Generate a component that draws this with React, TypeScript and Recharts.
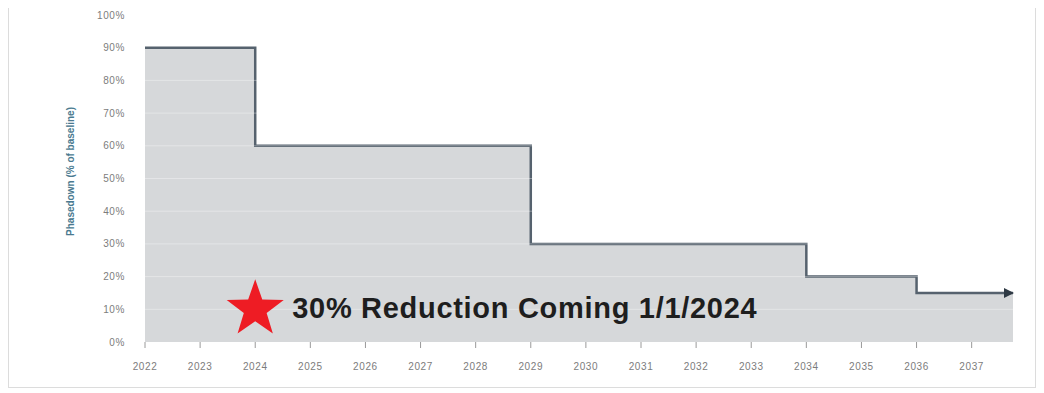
import React from 'react';
import { ComposedChart, Area, XAxis, YAxis, ReferenceLine, ReferenceDot } from 'recharts';

const years = [2022, 2024, 2029, 2034, 2036, 2037.75];
const phasedown = [90, 60, 30, 20, 15, 15];
const xTicks = [2022, 2023, 2024, 2025, 2026, 2027, 2028, 2029, 2030, 2031, 2032, 2033, 2034, 2035, 2036, 2037];
const yTicks = [0, 10, 20, 30, 40, 50, 60, 70, 80, 90, 100];
const gridLevels = [10, 20, 30, 40, 50, 60, 70, 80];
const annotationText = '30% Reduction Coming 1/1/2024';
const annotationYear = 2024;
const annotationLevel = 10;
const yLabel = 'Phasedown (% of baseline)';

const data = years.map((x, i) => ({ x, y: phasedown[i] }));

const ArrowDot = (props: any) => {
  const { cx, cy, index } = props;
  if (index !== data.length - 1) return <g key={`d${index}`} />;
  return (
    <path key={`d${index}`} d={`M ${cx - 9} ${cy - 5} L ${cx + 1} ${cy} L ${cx - 9} ${cy + 5} Z`} fill="#2f3a45" />
  );
};

const StarShape = (props: any) => {
  const { cx, cy } = props;
  const R = 30;
  const r = R * 0.4;
  const pts: string[] = [];
  for (let i = 0; i < 10; i++) {
    const rad = i % 2 === 0 ? R : r;
    const a = -Math.PI / 2 + (i * Math.PI) / 5;
    pts.push(`${cx + rad * Math.cos(a)},${cy + rad * Math.sin(a)}`);
  }
  return (
    <g>
      <polygon points={pts.join(' ')} fill="#ee1c24" />
      <text x={cx + 37} y={cy - 1} dominantBaseline="central" fontFamily="Liberation Sans, Arial, sans-serif" fontWeight="bold" fontSize={29} letterSpacing={0.7} fill="#1e1e1e">
        {annotationText}
      </text>
    </g>
  );
};

const tickStyle = { fontSize: 10, fill: '#7c7c7c', letterSpacing: 0.6, fontFamily: 'Liberation Sans, Arial, sans-serif' };

export default function App() {
  return (
    <div style={{ width: 1026, height: 383, border: '1px solid #dcdcdc', marginTop: -5, background: '#fff' }}>
      <ComposedChart width={1026} height={383} data={data} margin={{ top: 11, right: 22, left: 0, bottom: 15 }}>
        <XAxis
          dataKey="x"
          type="number"
          domain={[2022, 2037.75]}
          ticks={xTicks}
          interval={0}
          axisLine={false}
          tickSize={6}
          tickMargin={15}
          tickLine={{ stroke: '#9a9a9a' }}
          tick={tickStyle}
          height={30}
        />
        <YAxis
          type="number"
          domain={[0, 100]}
          ticks={yTicks}
          interval={0}
          width={136}
          axisLine={false}
          tickLine={false}
          tickSize={6}
          tickMargin={14}
          tickFormatter={(v: number) => `${v}%`}
          tick={tickStyle}
          label={{ value: yLabel, angle: -90, position: 'insideLeft', offset: 61, dy: -7, style: { fontSize: 10, fill: '#4a7a90', fontWeight: 'bold', textAnchor: 'middle', fontFamily: 'Liberation Sans, Arial, sans-serif' } }}
        />
        <Area
          type="stepAfter"
          dataKey="y"
          stroke="#56626e"
          strokeWidth={2.5}
          fill="#d6d8da"
          fillOpacity={1}
          isAnimationActive={false}
          dot={ArrowDot}
          activeDot={false}
        />
        {gridLevels.map((g) => (
          <ReferenceLine key={g} y={g} stroke="#ffffff" strokeOpacity={0.35} strokeWidth={1} />
        ))}
        <ReferenceDot x={annotationYear} y={annotationLevel} r={30} shape={StarShape} />
      </ComposedChart>
    </div>
  );
}
